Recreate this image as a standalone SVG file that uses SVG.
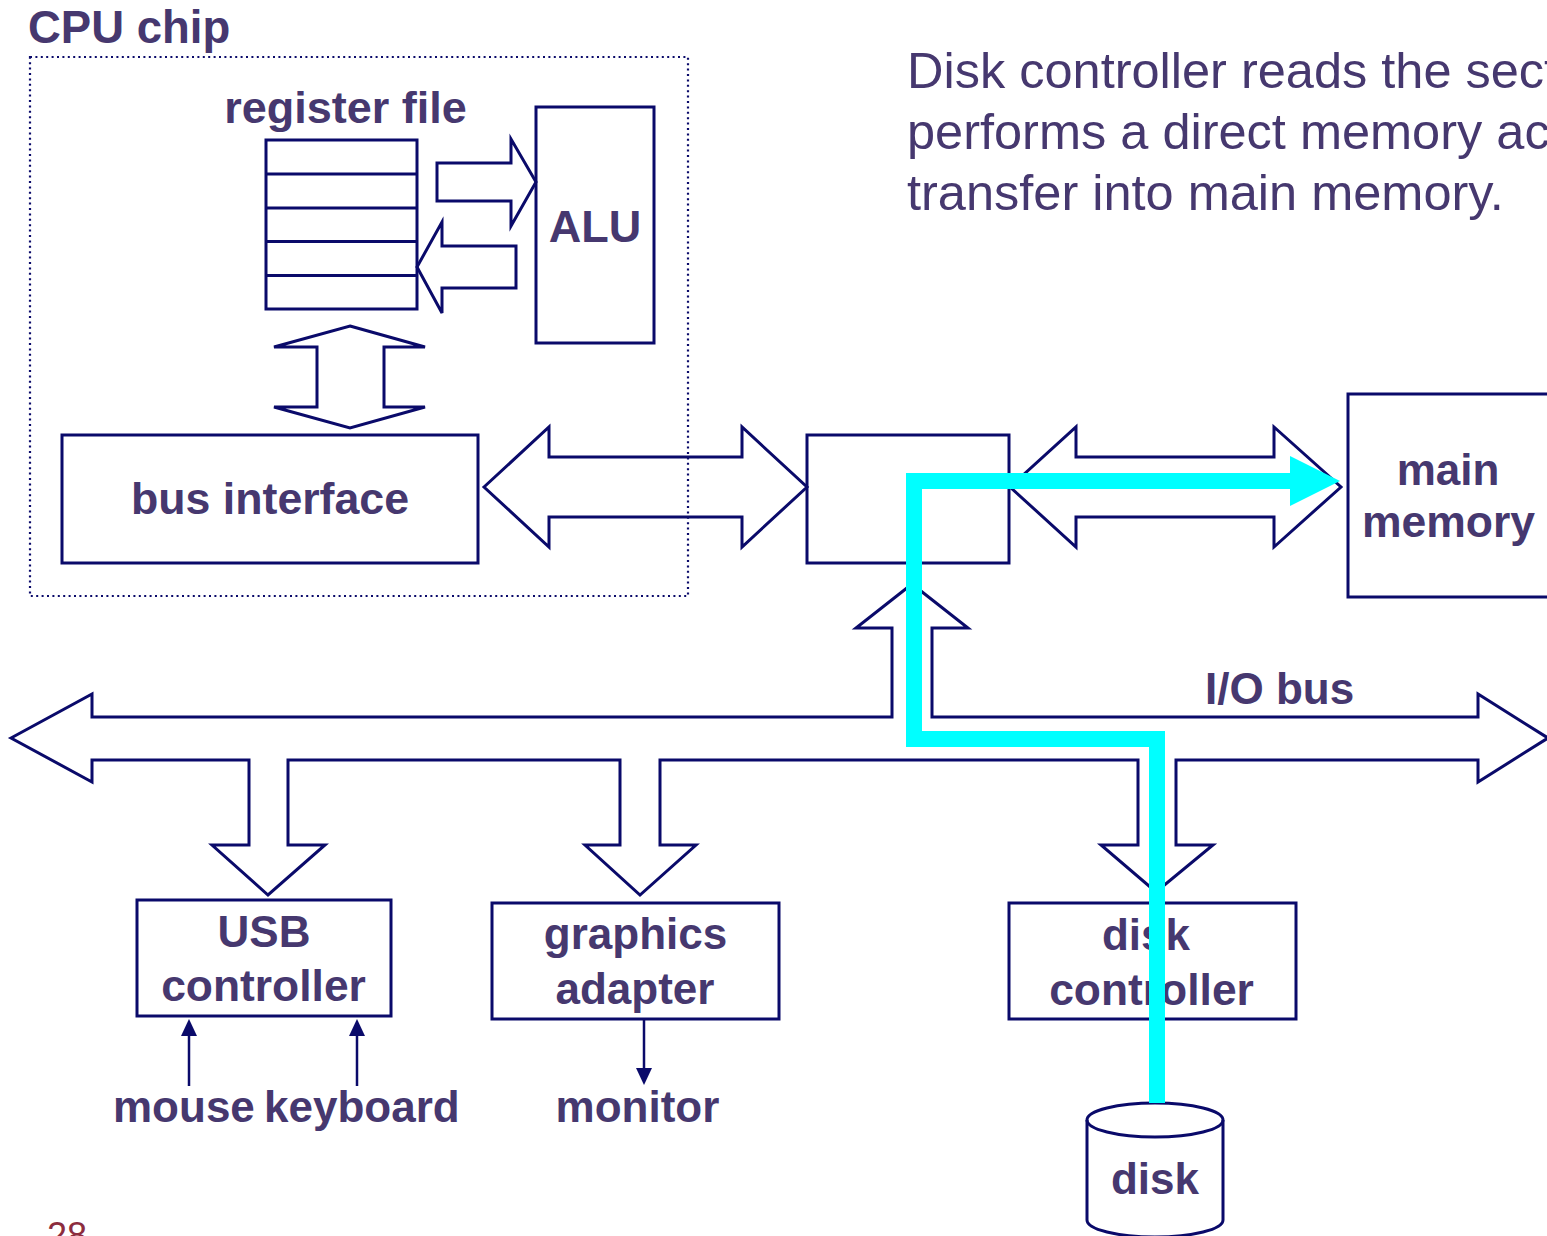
<svg xmlns="http://www.w3.org/2000/svg" width="1547" height="1236" viewBox="0 0 1547 1236">
<style>
.box{fill:#fff;stroke:#0a0a6a;stroke-width:3}
.blk{fill:none;stroke:#0a0a6a;stroke-width:3;stroke-linejoin:miter}
.lbl{font-family:"Liberation Sans",Arial,sans-serif;font-weight:bold;font-size:44px;fill:#46386f}
.mid{text-anchor:middle}
.note{font-family:"Liberation Sans",Arial,sans-serif;font-size:50.5px;fill:#46386f}
.thin{stroke:#0a0a6a;stroke-width:2.5;fill:none}
.head{fill:#0a0a6a}
.dma{fill:none;stroke:#00ffff;stroke-width:16;stroke-linejoin:miter}
</style>
<rect width="1547" height="1236" fill="#fff"/>
<g id="cpu-chip">
<rect x="30" y="57" width="658" height="539" fill="none" stroke="#0a0a6a" stroke-width="2.2" stroke-dasharray="2 3.4"/>
<text class="lbl" x="28" y="43" style="font-size:45.5px">CPU chip</text>
</g>
<g id="register-file">
<rect class="box" x="266" y="140" width="151" height="169"/>
<path class="thin" style="stroke-width:3" d="M266 174H417M266 208H417M266 241.5H417M266 275.5H417"/>
<text class="lbl mid" x="345.5" y="123" style="font-size:45px">register file</text>
</g>
<g id="alu">
<rect class="box" x="536" y="107" width="118" height="236"/>
<text class="lbl mid" x="595" y="242" style="font-size:45px">ALU</text>
</g>
<g id="bus-interface">
<rect class="box" x="62" y="435" width="416" height="128"/>
<text class="lbl mid" x="270" y="514" style="font-size:44.7px">bus interface</text>
</g>
<g id="io-bridge">
<rect class="box" x="807" y="435" width="202" height="128"/>
</g>
<g id="main-memory">
<rect class="box" x="1348" y="394" width="220" height="203"/>
<text class="lbl mid" x="1448" y="485">main</text>
<text class="lbl mid" x="1448.5" y="537" style="font-size:44.5px">memory</text>
</g>
<g id="usb-controller">
<rect class="box" x="137" y="900" width="254" height="116"/>
<text class="lbl mid" x="264" y="947">USB</text>
<text class="lbl mid" x="263.5" y="1001" style="font-size:44.4px">controller</text>
</g>
<g id="graphics-adapter">
<rect class="box" x="492" y="903" width="287" height="116"/>
<text class="lbl mid" x="635.5" y="949">graphics</text>
<text class="lbl mid" x="635" y="1004">adapter</text>
</g>
<g id="disk-controller">
<rect class="box" x="1009" y="903" width="287" height="116"/>
<text class="lbl mid" x="1146" y="950">disk</text>
<text class="lbl mid" x="1151.5" y="1005" style="font-size:44.4px">controller</text>
</g>
<g id="disk">
<path class="box" d="M1087 1120A68 17 0 0 1 1223 1120V1220A68 17 0 0 1 1087 1220Z"/>
<path class="box" style="fill:none" d="M1087 1120A68 17 0 0 0 1223 1120"/>
<text class="lbl mid" x="1155" y="1194">disk</text>
</g>
<g id="mouse"><text class="lbl" x="113" y="1122">mouse</text></g>
<g id="keyboard"><text class="lbl" x="264" y="1122">keyboard</text></g>
<g id="monitor"><text class="lbl mid" x="637.5" y="1122">monitor</text></g>
<g id="io-bus-label"><text class="lbl" x="1205" y="704">I/O bus</text></g>
<g id="annotation">
<text class="note" x="907" y="88">Disk controller reads the sect</text>
<text class="note" x="907" y="149">performs a direct memory acc</text>
<text class="note" x="907" y="210">transfer into main memory.</text>
</g>
<g id="page-number"><text x="47" y="1248" font-family="'Liberation Sans',Arial,sans-serif" font-size="36" fill="#8c2d3e">28</text></g>
<g id="connectors">
<polygon class="blk" points="437,163 511,163 511,139 536,182 511,226 511,201 437,201"/>
<polygon class="blk" points="417,267 442,222 442,246 516,246 516,288 442,288 442,313"/>
<polygon class="blk" points="350,326 425,347 384,347 384,407 425,407 350,428 274,407 317,407 317,347 274,347"/>
<polygon class="blk" points="484,487 549,427 549,457 742,457 742,427 807,487 742,547 742,517 549,517 549,547"/>
<polygon class="blk" points="1010,487 1076,427 1076,457 1274,457 1274,427 1341,487 1274,547 1274,517 1076,517 1076,547"/>
<polygon class="blk" points="11,738 92,694 92,717 892,717 892,628 856,628 912,584 968,628 932,628 932,717 1478,717 1478,694 1548,738 1478,782 1478,760 1176,760 1176,845 1213,845 1156,892 1101,845 1138,845 1138,760 660,760 660,845 696,845 640,895 585,845 620,845 620,760 288,760 288,845 325,845 268,895 212,845 249,845 249,760 92,760 92,782"/>
<line class="thin" x1="189" y1="1086" x2="189" y2="1034"/>
<polygon class="head" points="189,1019 181,1036 197,1036"/>
<line class="thin" x1="357" y1="1086" x2="357" y2="1034"/>
<polygon class="head" points="357,1019 349,1036 365,1036"/>
<line class="thin" x1="644" y1="1019" x2="644" y2="1070"/>
<polygon class="head" points="644,1085 636,1068 652,1068"/>
<polyline class="dma" points="1157,1103 1157,739 914,739 914,481 1292,481"/>
<polygon fill="#00ffff" points="1290,456 1340,481 1290,506"/>
</g>
</svg>
